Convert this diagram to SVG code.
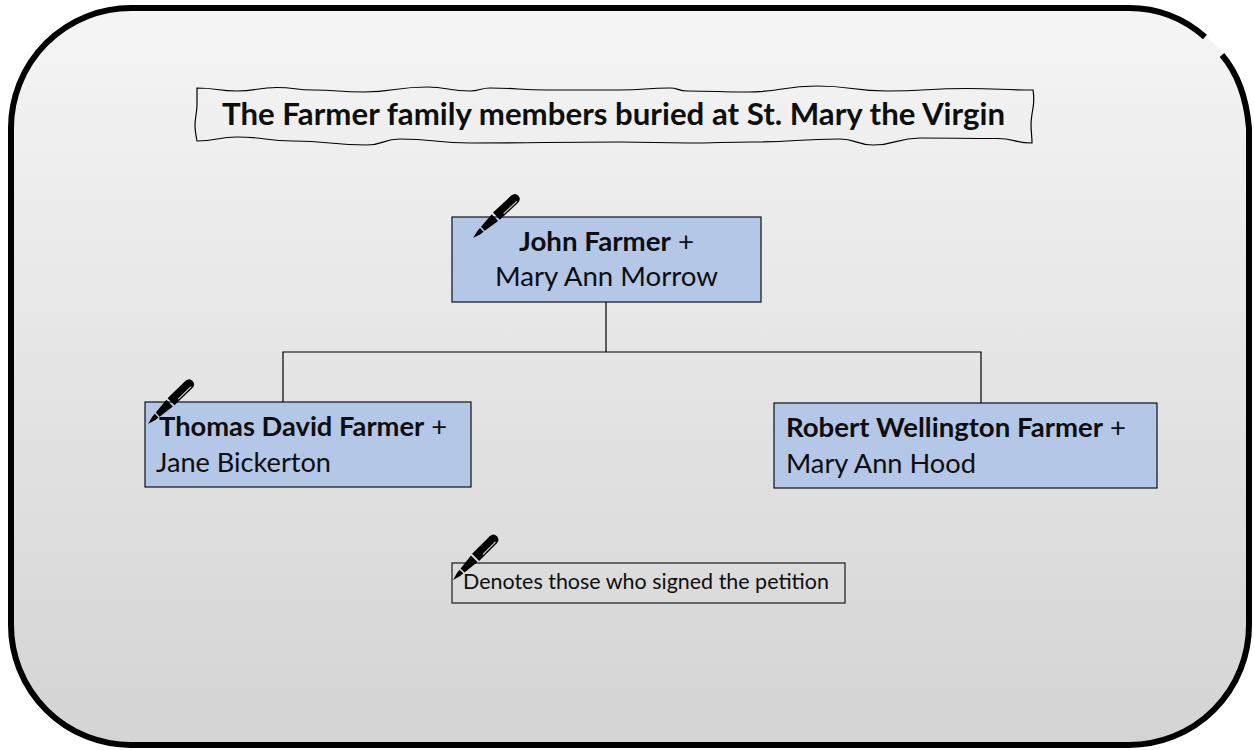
<svg xmlns="http://www.w3.org/2000/svg" width="1254" height="750" viewBox="0 0 1254 750">
  <style>
    text { font-family: "Lato", "Open Sans", "Liberation Sans", sans-serif; fill: #0e0e0e; }
    .b { font-weight: 700; }
    .box { fill: #b4c7e7; stroke: #0c1018; stroke-width: 1.2; }
    .name { font-size: 26.5px; }
    .line { fill: none; stroke: #000; stroke-width: 1.2; }
  </style>
  <defs>
    <linearGradient id="bg" x1="0" y1="0" x2="0" y2="1">
      <stop offset="0" stop-color="#f5f5f5"/>
      <stop offset="1" stop-color="#d4d4d4"/>
    </linearGradient>
    <g id="pen">
      <path d="M0 0 L8 -2.2 L12 -2.6 L12 2.6 L8 2.2 Z" fill="#000"/>
      <path d="M13.5 -2.8 L30 -4.6 L30 4.6 L13.5 2.8 Z" fill="#000"/>
      <path d="M32 -5 L57 -5 Q62 -4.6 62 0 Q62 4.6 57 5 L32 5 Z" fill="#000"/>
      <path d="M39 3.1 L57 3.1" stroke="#d0d0d0" stroke-width="1.2" fill="none"/>
    </g>
  </defs>

  <rect width="1254" height="750" fill="#fff"/>

  <g id="frame">
    <rect x="11" y="8" width="1238" height="737" rx="120" ry="120" fill="url(#bg)"/>
    <path d="M1205 37 Q1172 8 1129 8 L131 8 A120 120 0 0 0 11 128 L11 625 A120 120 0 0 0 131 745 L1129 745 A120 120 0 0 0 1249 625 L1249 128 Q1245 82 1222 55" fill="none" stroke="#000" stroke-width="6"/>
  </g>

  <g id="title">
    <path class="line" d="M197 88 C217 88 217 91 237 91 C257 91 257 87.5 277 87.5 C295 87.5 295 90 313 90 C338 90 338 92 363 92 C395 92 395 87 427 87 C448 87 448 91 470 91 C480 91 480 88 490 88 C518 88 518 90 547 90 C585 90 585 90 620 90 C645 90 645 88 670 88 C678 88 678 91 687 91 C717 91 717 92 747 92 C782 92 782 86 817 86 C852 86 852 91 887 91 C927 91 927 88.5 967 88.5 C1000 88.5 1000 90 1033 90 C1034 96 1034 102 1033 108 C1032 114 1031 119 1031 125 C1031 131 1032 136 1032 143 C1015 143 1015 138.5 997 138.5 C958 138.5 958 138 920 138 C896 138 896 145 873 145 C856 145 856 139 840 139 C796 139 796 142 753 142 C720 142 720 143 687 143 C654 143 654 142 620 142 C545 142 545 143 470 143 C435 143 435 139 400 139 C383 139 383 145 367 145 C330 145 330 141 293 141 C265 141 265 137 237 137 C217 137 217 141 197 141 C196 136 195 131 195 125 C195 118 197 112 197 105 C197 99 197 94 197 88 Z"/>
    <text class="b" x="222" y="125" font-size="30" textLength="783" lengthAdjust="spacingAndGlyphs">The Farmer family members buried at St. Mary the Virgin</text>
  </g>

  <g id="connectors">
    <path class="line" d="M606 302 V352 M283 402 V352 H981 V403"/>
  </g>

  <g id="node-john">
    <rect class="box" x="452" y="217" width="309" height="85"/>
    <text class="name" x="519" y="251" textLength="175" lengthAdjust="spacingAndGlyphs"><tspan class="b">John Farmer</tspan> +</text>
    <text class="name" x="495" y="286" textLength="223" lengthAdjust="spacingAndGlyphs">Mary Ann Morrow</text>
    <use href="#pen" transform="translate(473 238) rotate(-43)"/>
  </g>

  <g id="node-thomas">
    <rect class="box" x="145" y="402" width="326" height="85"/>
    <text class="name" x="159" y="436" textLength="288" lengthAdjust="spacingAndGlyphs"><tspan class="b">Thomas David Farmer</tspan> +</text>
    <text class="name" x="156" y="472" textLength="175" lengthAdjust="spacingAndGlyphs">Jane Bickerton</text>
    <use href="#pen" transform="translate(148 424) rotate(-44)"/>
  </g>

  <g id="node-robert">
    <rect class="box" x="774" y="403" width="383" height="85"/>
    <text class="name" x="786" y="437" textLength="340" lengthAdjust="spacingAndGlyphs"><tspan class="b">Robert Wellington Farmer</tspan> +</text>
    <text class="name" x="786" y="473" textLength="190" lengthAdjust="spacingAndGlyphs">Mary Ann Hood</text>
  </g>

  <g id="legend">
    <rect x="452" y="563" width="393" height="40" fill="none" stroke="#1a1a1a" stroke-width="1.2"/>
    <text x="463" y="589" font-size="21" textLength="366" lengthAdjust="spacingAndGlyphs">Denotes those who signed the petition</text>
    <use href="#pen" transform="translate(453 580) rotate(-45)"/>
  </g>
</svg>
